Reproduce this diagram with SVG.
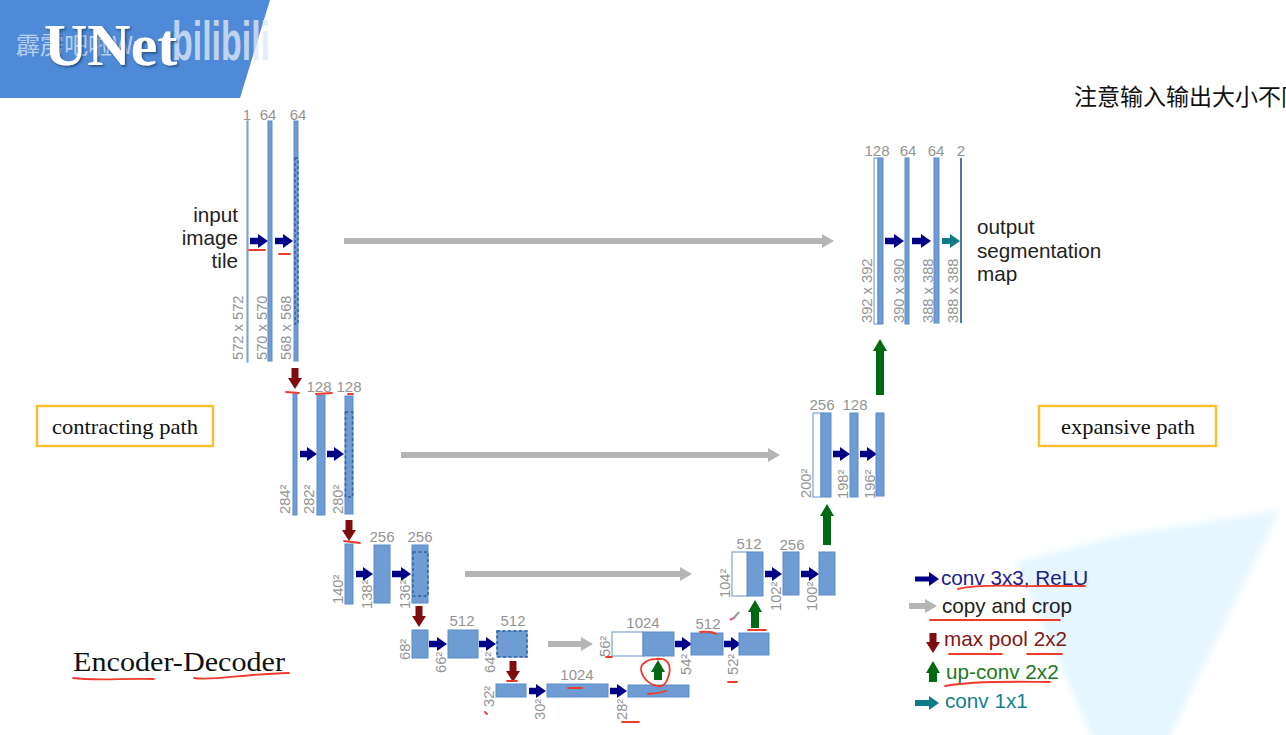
<svg xmlns="http://www.w3.org/2000/svg" width="1286" height="735" viewBox="0 0 1286 735">
<style>
text{font-family:"Liberation Sans",Arial,sans-serif}
.b{fill:#6f9dd3;stroke:#5b8cc7;stroke-width:1}
.w{fill:#fff;stroke:#7fa3d2;stroke-width:1.2}
.d{fill:none;stroke:#2f62a5;stroke-width:1.5;stroke-dasharray:3 2.5}
.n{fill:#949494;font-size:15px;text-anchor:middle}
.s{fill:#949494;font-size:14.700px}
.t{fill:#222;font-size:20.700px}
.bx{fill:#fff;stroke:#fbbf2c;stroke-width:2.400}
.bt{font-family:"Liberation Serif","Times New Roman",serif;font-size:22px;fill:#111}
.conv{stroke:#000086;stroke-width:6.500;fill:none}
.teal{stroke:#0b7b86;stroke-width:6;fill:none}
.copy{stroke:#b5b5b5;stroke-width:6;fill:none}
.pool{stroke:#7f0d0d;stroke-width:7;fill:none}
.up{stroke:#006a12;stroke-width:8;fill:none}
.r{fill:none;stroke:#ee3b2c;stroke-width:1.800;stroke-linecap:round}
.lg{font-size:20.700px}
</style>
<defs>
<marker id="hc" markerUnits="userSpaceOnUse" markerWidth="12" markerHeight="16" refX="0" refY="8" orient="auto"><path d="M0 1L10 8L0 15Z" fill="#000086"/></marker>
<marker id="ht" markerUnits="userSpaceOnUse" markerWidth="12" markerHeight="16" refX="0" refY="8" orient="auto"><path d="M0 1L10 8L0 15Z" fill="#0b7b86"/></marker>
<marker id="hg" markerUnits="userSpaceOnUse" markerWidth="14" markerHeight="16" refX="0" refY="8" orient="auto"><path d="M0 1L12 8L0 15Z" fill="#b5b5b5"/></marker>
<marker id="hp" markerUnits="userSpaceOnUse" markerWidth="14" markerHeight="16" refX="0" refY="8" orient="auto"><path d="M0 1L11 8L0 15Z" fill="#7f0d0d"/></marker>
<marker id="hu" markerUnits="userSpaceOnUse" markerWidth="14" markerHeight="18" refX="0" refY="9" orient="auto"><path d="M0 2L12 9L0 16Z" fill="#006a12"/></marker>
<filter id="soft" x="-5%" y="-5%" width="110%" height="110%"><feGaussianBlur stdDeviation="3"/></filter>
<filter id="sh" x="-10%" y="-10%" width="120%" height="130%"><feDropShadow dx="1.500" dy="1.500" stdDeviation="1" flood-color="#1d3a66" flood-opacity=".8"/></filter>
</defs>
<rect width="1286" height="735" fill="#fff"/>
<path d="M1015 562L1120 535L1280 510L1168 740L1093 740Z" fill="#e6f6fe" filter="url(#soft)"/>

<g id="banner">
<path d="M0 0H270L240 98L0 98Z" fill="#4f8ad8"/>
<text x="16" y="54" font-size="24" fill="#fff" fill-opacity=".6" style="font-family:'Noto Sans CJK SC','Liberation Sans',sans-serif">霹雳吧啦Wz</text>
<text x="172" y="60" font-size="56" font-weight="bold" fill="#dfe8f4" fill-opacity=".8" textLength="98" lengthAdjust="spacingAndGlyphs">bilibili</text>
<text x="44" y="65" font-size="60" font-weight="bold" fill="#fff" filter="url(#sh)" style="font-family:'Liberation Serif','Times New Roman',serif">UNet</text>
</g>
<text id="note" x="1074" y="105" font-size="23" fill="#111" style="font-family:'Noto Sans CJK SC','Liberation Sans',sans-serif">注意输入输出大小不同</text>

<g id="connectors">
<path class="conv" marker-end="url(#hc)" d="M250 241H258"/>
<path class="conv" marker-end="url(#hc)" d="M275 241H283"/>
<path class="conv" marker-end="url(#hc)" d="M300 454H307"/>
<path class="conv" marker-end="url(#hc)" d="M327 454H334"/>
<path class="conv" marker-end="url(#hc)" d="M356 574H363"/>
<path class="conv" marker-end="url(#hc)" d="M392 574H401"/>
<path class="conv" marker-end="url(#hc)" d="M429 644H437"/>
<path class="conv" marker-end="url(#hc)" d="M479 644H486"/>
<path class="conv" marker-end="url(#hc)" d="M529 691H536"/>
<path class="conv" marker-end="url(#hc)" d="M610 691H617"/>
<path class="conv" marker-end="url(#hc)" d="M675 644H682"/>
<path class="conv" marker-end="url(#hc)" d="M724 644H731"/>
<path class="conv" marker-end="url(#hc)" d="M765 574H772"/>
<path class="conv" marker-end="url(#hc)" d="M801 574H809"/>
<path class="conv" marker-end="url(#hc)" d="M833 454H840"/>
<path class="conv" marker-end="url(#hc)" d="M860 454H867"/>
<path class="conv" marker-end="url(#hc)" d="M885 241H894"/>
<path class="conv" marker-end="url(#hc)" d="M912 241H921"/>
<path class="teal" marker-end="url(#ht)" d="M942 241H950"/>
<path class="copy" marker-end="url(#hg)" d="M344 241H822"/>
<path class="copy" marker-end="url(#hg)" d="M401 455H768"/>
<path class="copy" marker-end="url(#hg)" d="M465 574H680"/>
<path class="copy" marker-end="url(#hg)" d="M548 644H581"/>
<path class="pool" marker-end="url(#hp)" d="M295 368V378"/>
<path class="pool" marker-end="url(#hp)" d="M349 520V530"/>
<path class="pool" marker-end="url(#hp)" d="M419 606V616"/>
<path class="pool" marker-end="url(#hp)" d="M513 661V671"/>
<path class="up" marker-end="url(#hu)" d="M658 680V672"/>
<path class="up" marker-end="url(#hu)" d="M755 628V612"/>
<path class="up" marker-end="url(#hu)" d="M827 545V516"/>
<path class="up" marker-end="url(#hu)" d="M880 395V351"/>
</g>

<g id="n1"><rect class="w" x="247" y="121" width="1" height="241"/><text class="n" x="247" y="120">1</text><text class="s" transform="translate(243 360) rotate(-90)">572 x 572</text></g>
<g id="n2"><rect class="b" x="268" y="121" width="4" height="240"/><text class="n" x="268" y="120">64</text><text class="s" transform="translate(267 360) rotate(-90)">570 x 570</text></g>
<g id="n3"><rect class="b" x="294" y="121" width="4" height="240"/><rect class="d" x="295" y="158" width="3" height="166"/><text class="n" x="298" y="120">64</text><text class="s" transform="translate(291 360) rotate(-90)">568 x 568</text></g>
<g id="n4"><rect class="b" x="293" y="394" width="4" height="121"/><text class="s" transform="translate(290 514) rotate(-90)">284²</text></g>
<g id="n5"><rect class="b" x="317" y="395" width="8" height="120"/><text class="n" x="319" y="392">128</text><text class="s" transform="translate(314 514) rotate(-90)">282²</text></g>
<g id="n6"><rect class="b" x="345" y="396" width="8" height="118"/><rect class="d" x="345.500" y="412" width="7" height="85"/><text class="n" x="349" y="392">128</text><text class="s" transform="translate(343 514) rotate(-90)">280²</text></g>
<g id="n7"><rect class="b" x="345" y="544" width="8" height="60"/><text class="s" transform="translate(343 604) rotate(-90)">140²</text></g>
<g id="n8"><rect class="b" x="374" y="545" width="16" height="58"/><text class="n" x="382" y="542">256</text><text class="s" transform="translate(372 609) rotate(-90)">138²</text></g>
<g id="n9"><rect class="b" x="412" y="545" width="16" height="58"/><rect class="d" x="413" y="552" width="15" height="44"/><text class="n" x="420" y="542">256</text><text class="s" transform="translate(410 609) rotate(-90)">136²</text></g>
<g id="n10"><rect class="b" x="412" y="630" width="16" height="28"/><text class="s" transform="translate(410 660) rotate(-90)">68²</text></g>
<g id="n11"><rect class="b" x="448" y="630" width="30" height="28"/><text class="n" x="462" y="626">512</text><text class="s" transform="translate(446 673) rotate(-90)">66²</text></g>
<g id="n12"><rect class="b" x="497" y="631" width="30" height="26"/><rect class="d" x="497" y="631" width="30" height="26"/><text class="n" x="513" y="626">512</text><text class="s" transform="translate(495 673) rotate(-90)">64²</text></g>
<g id="n13"><rect class="b" x="496" y="684" width="30" height="13"/><text class="s" transform="translate(494 707) rotate(-90)">32²</text></g>
<g id="n14"><rect class="b" x="547" y="684" width="61" height="13"/><text class="n" x="577" y="680">1024</text><text class="s" transform="translate(545 720) rotate(-90)">30²</text></g>
<g id="n15"><rect class="b" x="628" y="685" width="61" height="12"/><text class="s" transform="translate(627 720) rotate(-90)">28²</text></g>
<g id="n16"><rect class="w" x="612" y="632" width="31" height="24"/><rect class="b" x="643" y="632" width="31" height="24"/><text class="n" x="643" y="628">1024</text><text class="s" transform="translate(610 657) rotate(-90)">56²</text></g>
<g id="n17"><rect class="b" x="691" y="633" width="32" height="22"/><text class="n" x="708" y="629">512</text><text class="s" transform="translate(691 675) rotate(-90)">54²</text></g>
<g id="n18"><rect class="b" x="739" y="633" width="30" height="22"/><text class="s" transform="translate(738 675) rotate(-90)">52²</text></g>
<g id="n19"><rect class="w" x="732" y="552" width="16" height="44"/><rect class="b" x="747" y="552" width="16" height="44"/><text class="n" x="749" y="549">512</text><text class="s" transform="translate(730 598) rotate(-90)">104²</text></g>
<g id="n20"><rect class="b" x="783" y="552" width="16" height="43"/><text class="n" x="792" y="550">256</text><text class="s" transform="translate(781 611) rotate(-90)">102²</text></g>
<g id="n21"><rect class="b" x="819" y="552" width="16" height="43"/><text class="s" transform="translate(817 611) rotate(-90)">100²</text></g>
<g id="n22"><rect class="w" x="813" y="413" width="8" height="84"/><rect class="b" x="821" y="413" width="10" height="84"/><text class="n" x="822" y="410">256</text><text class="s" transform="translate(811 498) rotate(-90)">200²</text></g>
<g id="n23"><rect class="b" x="850" y="413" width="8" height="84"/><text class="n" x="855" y="410">128</text><text class="s" transform="translate(848 499) rotate(-90)">198²</text></g>
<g id="n24"><rect class="b" x="876" y="413" width="8" height="83"/><text class="s" transform="translate(875 499) rotate(-90)">196²</text></g>
<g id="n25"><rect class="w" x="874" y="158" width="4" height="166"/><rect class="b" x="878" y="158" width="5" height="166"/><text class="n" x="877" y="156">128</text><text class="s" transform="translate(872 323) rotate(-90)">392 x 392</text></g>
<g id="n26"><rect class="b" x="905" y="158" width="4" height="166"/><text class="n" x="908" y="156">64</text><text class="s" transform="translate(904 323) rotate(-90)">390 x 390</text></g>
<g id="n27"><rect class="b" x="934" y="158" width="5" height="165"/><text class="n" x="936" y="156">64</text><text class="s" transform="translate(933 323) rotate(-90)">388 x 388</text></g>
<g id="n28"><rect x="960" y="158" width="2" height="165" fill="#4f74a8"/><text class="n" x="961" y="156">2</text><text class="s" transform="translate(958 323) rotate(-90)">388 x 388</text></g>

<g id="input-label"><text class="t" x="238" y="222" text-anchor="end">input</text><text class="t" x="238" y="245" text-anchor="end">image</text><text class="t" x="238" y="268" text-anchor="end">tile</text></g>
<g id="output-label"><text class="t" x="977" y="234">output</text><text class="t" x="977" y="258">segmentation</text><text class="t" x="977" y="281">map</text></g>

<g id="contracting"><rect class="bx" x="37" y="406" width="176" height="40"/><text class="bt" x="52" y="434" textLength="146" lengthAdjust="spacingAndGlyphs">contracting path</text></g>
<g id="expansive"><rect class="bx" x="1039" y="406" width="177" height="40"/><text class="bt" x="1061" y="434" textLength="134" lengthAdjust="spacingAndGlyphs">expansive path</text></g>
<text id="encdec" x="73" y="671" font-size="28" fill="#111" style="font-family:'Liberation Serif','Times New Roman',serif" textLength="212" lengthAdjust="spacingAndGlyphs">Encoder-Decoder</text>

<g id="legend">
<path class="conv" marker-end="url(#hc)" d="M915 579H929" style="stroke-width:5"/>
<text class="lg" x="941" y="585" fill="#20208c">conv 3x3, ReLU</text>
<path class="copy" marker-end="url(#hg)" d="M909 606H925"/>
<text class="lg" x="942" y="613" fill="#222">copy and crop</text>
<path class="pool" marker-end="url(#hp)" d="M933 633V642"/>
<text class="lg" x="944" y="646" fill="#7f1818">max pool 2x2</text>
<path class="up" marker-end="url(#hu)" d="M933 682V673"/>
<text class="lg" x="946" y="679" fill="#1c7a1c">up-conv 2x2</text>
<path class="teal" marker-end="url(#ht)" d="M915 703H929"/>
<text class="lg" x="945" y="708" fill="#137f8c">conv 1x1</text>
</g>

<g id="annotations">
<path class="r" d="M249 250H265M279 254H290M286 392L299 393M316 394L332 393M348 394H353M344 541L360 543M507 681H517M568 688H582M485 712L487 714M622 722H639M606 657H612M648 694Q660 693 666 691M700 632Q712 631 716 634M728 682H737M748 630H766"/>
<path class="r" d="M660 659C648 658 640 664 641 670C643 680 652 687 662 686C668 683 671 670 669 665C667 660 662 658 656 659"/>
<path d="M730 620L735 617" stroke="#ee3b6c" stroke-width="2" fill="none"/><path d="M733 619L739 612" stroke="#999" stroke-width="2" fill="none"/>
<path class="r" d="M73 678C95 681 125 678 154 679M194 678C215 681 240 674 289 673"/>
<path class="r" d="M958 589C985 583 1020 587 1040 586L1085 586M930 620L1060 620M949 654H1002M1027 654H1062M945 686C975 680 1030 682 1050 682"/>
</g>
</svg>
